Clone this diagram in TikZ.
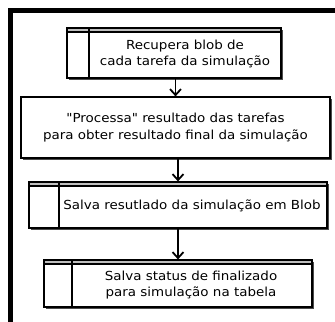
\documentclass[tikz,border=0pt]{standalone}
\usepackage{fontspec}
\setmainfont{DejaVu Sans}
\newfontfamily\boxfont[FakeStretch=1.08]{DejaVu Sans}
\usepackage{tikz}
\usetikzlibrary{positioning,arrows.meta,shadows}

\begin{document}
\begin{tikzpicture}[x=1bp,y=-1bp,
  box/.style={draw,line width=1.2bp,fill=white,
    drop shadow={shadow xshift=1.8bp,shadow yshift=-1.8bp,fill=black!70,opacity=1}},
  tabbox/.style={box,path picture={
      \fill[black!25] (path picture bounding box.north west) rectangle ([yshift=-4bp]path picture bounding box.north east);
      \draw[line width=1.2bp] ([yshift=-4bp]path picture bounding box.north west) -- ([yshift=-4bp]path picture bounding box.north east);
      \draw[line width=1.2bp] ([xshift=#1]path picture bounding box.north west) -- ([xshift=#1]path picture bounding box.south west);}},
  txt/.style={font=\boxfont\fontsize{12.5}{16.5}\selectfont,align=center,inner sep=0pt},
  seta/.style={line width=1.8bp,-{Straight Barb[length=6bp,width=11bp]}}]
\useasboundingbox (0,0) rectangle (335,322);
\draw [line width=5bp](10.5,322)--(10.5,10.5)--(335,10.5);
\node[tabbox=22bp,minimum width=214bp,minimum height=50bp] (recupera) at (174,53) {};
\node[txt] (trecupera) at (185,54) {Recupera blob de\\cada tarefa da simulação};
\node[box,txt,minimum width=309bp,minimum height=61bp] (processa) at (175.5,127.5) {\char34 Processa\char34{} resultado das tarefas\\para obter resultado final da simulação};
\node[tabbox=30bp,minimum width=298bp,minimum height=46bp] (salvablob) at (178,205) {};
\node[txt] (tsalvablob) at (192,206) {Salva resutlado da simulação em Blob};
\node[tabbox=28bp,minimum width=268bp,minimum height=47bp] (salvastatus) at (178,283.5) {};
\node[txt] (tsalvastatus) at (191,285) {Salva status de finalizado\\para simulação na tabela};
\draw [seta](recupera.south -| processa.north)--(processa.north);
\draw [seta](processa.south -| salvablob.north)--(salvablob.north);
\draw [seta](salvablob.south)--(salvastatus.north);
\end{tikzpicture}
\end{document}
